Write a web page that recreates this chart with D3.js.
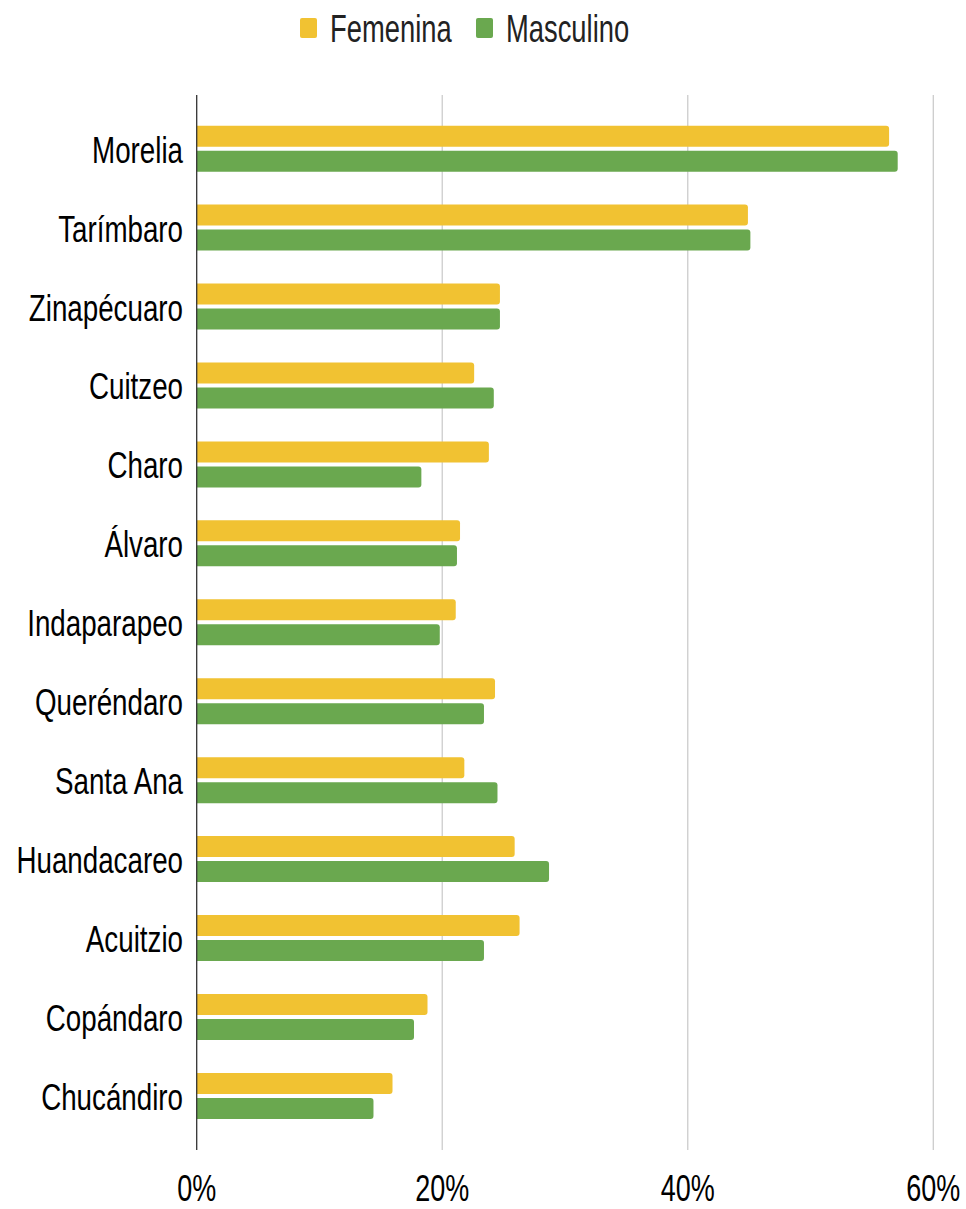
<!DOCTYPE html>
<html>
<head>
<meta charset="utf-8">
<script src="https://cdn.jsdelivr.net/npm/d3@7"></script>
<style>
  body { margin: 0; background: #fff; }
  svg { display: block; }
  text { font-family: "Liberation Sans Narrow", "Liberation Sans", Arial, sans-serif; fill: #000; }
</style>
</head>
<body>
<svg id="chart" width="966" height="1209"></svg>
<script>
"use strict";

var municipios = ["Morelia", "Tarímbaro", "Zinapécuaro", "Cuitzeo", "Charo", "Álvaro",
    "Indaparapeo", "Queréndaro", "Santa Ana", "Huandacareo", "Acuitzio", "Copándaro", "Chucándiro"];
var femenina = [56.4, 44.9, 24.7, 22.6, 23.8, 21.45, 21.1, 24.3, 21.8, 25.9, 26.3, 18.8, 15.95];
var masculino = [57.1, 45.1, 24.7, 24.2, 18.3, 21.2, 19.8, 23.4, 24.5, 28.7, 23.4, 17.7, 14.4];
var xTicks = [0, 20, 40, 60];
var series = [
    { name: "Femenina", values: femenina, color: "#f1c232" },
    { name: "Masculino", values: masculino, color: "#6aa84f" }
];

(function () {
    var svg = d3.select("#chart"),
        left = 196.7,
        right = 933.3,
        top = 95,
        bottom = 1150,
        barH = 21,
        gap = 4;

    var x = d3.scaleLinear().domain([0, 60]).range([left, right]);
    var y = d3.scaleBand().domain(municipios).range([109.2, 1135.4]);

    // text in the reference is horizontally condensed
    function place(px, py, sx) {
        return "translate(" + px + "," + py + ") scale(" + (sx || 0.75) + ",1)";
    }

    // gridlines
    svg.append("g")
        .selectAll("line")
        .data(xTicks.slice(1))
        .join("line")
        .attr("x1", function (d) { return x(d); })
        .attr("x2", function (d) { return x(d); })
        .attr("y1", top)
        .attr("y2", bottom)
        .attr("stroke", "#cccccc")
        .attr("stroke-width", 1.3);

    // bars, square on the left, rounded on the right
    function barPath(x0, x1, y0, h, r) {
        r = Math.min(r, (x1 - x0) / 2);
        return "M" + x0 + "," + y0 +
            "H" + (x1 - r) +
            "Q" + x1 + "," + y0 + " " + x1 + "," + (y0 + r) +
            "V" + (y0 + h - r) +
            "Q" + x1 + "," + (y0 + h) + " " + (x1 - r) + "," + (y0 + h) +
            "H" + x0 + "Z";
    }

    series.forEach(function (s, si) {
        svg.append("g")
            .selectAll("path")
            .data(s.values)
            .join("path")
            .attr("fill", s.color)
            .attr("d", function (d, i) {
                var c = y(municipios[i]) + y.bandwidth() / 2,
                    y0 = si === 0 ? c - gap / 2 - barH : c + gap / 2;
                return barPath(x(0), x(d), y0, barH, 3);
            });
    });

    // baseline axis
    svg.append("line")
        .attr("x1", x(0)).attr("x2", x(0))
        .attr("y1", top).attr("y2", bottom)
        .attr("stroke", "#333")
        .attr("stroke-width", 1.3);

    // category labels
    svg.append("g")
        .selectAll("text")
        .data(municipios)
        .join("text")
        .attr("transform", function (d) { return place(183, y(d) + y.bandwidth() / 2 + 14); })
        .attr("text-anchor", "end")
        .style("font-size", "37px")
        .text(function (d) { return d; });

    // x tick labels
    svg.append("g")
        .selectAll("text")
        .data(xTicks)
        .join("text")
        .attr("transform", function (d) { return place(x(d), 1201); })
        .attr("text-anchor", "middle")
        .style("font-size", "36px")
        .text(function (d) { return d + "%"; });

    // legend
    var legend = svg.append("g");
    var lx = [300, 476];
    series.forEach(function (s, i) {
        legend.append("rect")
            .attr("x", lx[i]).attr("y", 18)
            .attr("width", 17).attr("height", 20)
            .attr("rx", 2)
            .attr("fill", s.color);
        legend.append("text")
            .attr("transform", place(lx[i] + 30, 42, 0.72))
            .style("font-size", "38px")
            .style("fill", "#222")
            .text(s.name);
    });
}());
</script>
</body>
</html>
